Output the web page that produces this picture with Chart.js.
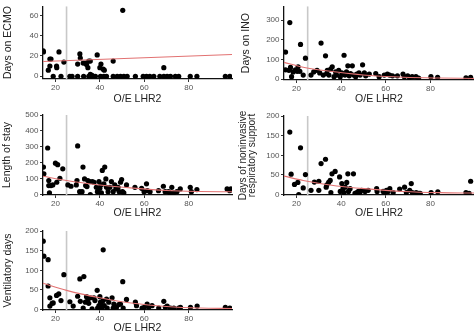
<!DOCTYPE html>
<html>
<head>
<meta charset="utf-8">
<script src="https://cdn.jsdelivr.net/npm/chart.js@4.4.0/dist/chart.umd.min.js"></script>
<style>
  html, body { margin: 0; padding: 0; background: #fff; }
  #wrap { position: relative; width: 474px; height: 335px; overflow: hidden; }
  #wrap canvas { position: absolute; left: 0; top: 0; }
</style>
</head>
<body>
<div id="wrap">
  <canvas id="ecmo" width="474" height="335"></canvas>
  <canvas id="ino" width="474" height="335"></canvas>
  <canvas id="los" width="474" height="335"></canvas>
  <canvas id="niv" width="474" height="335"></canvas>
  <canvas id="vent" width="474" height="335"></canvas>
</div>
<script>
// shared x axis
const xTicks = [20, 40, 60, 80];
const lhrCutoff = 25;

// Days on ECMO
const ecmoTicks = [0, 20, 40, 60];
const ecmoPoints = [
  [14.5, 25], [14.6, 24], [17.5, 17], [18, 17], [16.8, 6], [17.5, 10], [19, 0], [20.5, 10], [20.6, 8.5],
  [21.6, 24], [22.5, 0], [23.8, 14], [26.5, 0], [27.5, 0], [30, 0], [32.7, 0], [35, 0], [36.5, 0], [38, 0],
  [40.3, 0], [41.8, 0], [43, 0], [46, 0], [47.8, 0], [49.3, 0], [50.8, 0], [52.3, 0], [56, 0], [59.5, 0],
  [61, 0], [62.5, 0], [64.3, 0], [67, 0], [68.8, 0], [70.3, 0], [71.8, 0], [74, 0], [75.5, 0], [80.7, 0],
  [83.7, 0], [96.5, 0], [98.5, 0], [30, 12], [31, 22], [31.2, 18], [32.5, 13], [33.5, 13], [34, 11.5],
  [35, 15], [34.6, 8.5], [35.7, 15], [35.7, 2], [36.5, 1], [38.8, 21], [40, 8.5], [40.5, 12], [41.5, 7],
  [42, 6], [46, 15], [50.3, 65], [68.8, 8.5]
];
const ecmoFit = [[14.4, 14.5], [99.5, 21.4]];

// Days on INO
const inoTicks = [0, 100, 200, 300];
const inoPoints = [
  [15.1, 137], [17, 287], [15.1, 47], [16.6, 44], [17.3, 59], [17.8, 12], [18.5, 36], [19.5, 47], [20.3, 39],
  [20.7, 62], [21.5, 39], [21.8, 176], [23, 20], [24, 106], [26.5, 20], [27.7, 36], [29.2, 44], [30.4, 31],
  [31, 183], [32, 20], [33, 118], [33.5, 28], [33.8, 44], [34.5, 20], [35.3, 51], [36, 62], [36.8, 12],
  [37.5, 36], [38, 20], [38.9, 44], [39.6, 12], [40.3, 31], [40.8, 25], [41.3, 121], [41.7, 20], [42.4, 36],
  [43, 67], [43.6, 16], [44.2, 28], [45, 67], [45.6, 20], [46.5, 12], [47, 25], [48, 31], [48.5, 20],
  [49.6, 72], [50.4, 31], [51, 16], [52.6, 25], [55.5, 28], [57, 12], [59.3, 20], [60.7, 25], [61.7, 20],
  [63, 16], [65.2, 16], [67.7, 25], [68.3, 12], [69.8, 16], [70.6, 9], [71.8, 12], [73.5, 12], [74.7, 5],
  [80.2, 12], [83.2, 9], [95.9, 6], [98, 9]
];
const inoFit = [[14.4, 85], [23, 60], [38, 36], [53, 18], [68, 9], [84, 5], [99.5, 3]];

// Length of stay
const losTicks = [0, 100, 200, 300, 400, 500];
const losPoints = [
  [14.6, 173], [14.8, 131], [16.5, 293], [17, 57], [17, 89], [17.3, 11], [18, 57], [18.8, 61], [20, 198],
  [21, 188], [20.6, 78], [22, 103], [23.3, 162], [25.6, 61], [27, 53], [29.4, 61], [30, 306], [29.7, 89],
  [30.9, 19], [32, 19], [32.4, 173], [33.1, 99], [33.6, 57], [34.2, 51], [34.6, 89], [35.4, 82], [35.7, 0],
  [36.6, 82], [37.4, 78], [38.4, 46], [38.9, 19], [39.6, 82], [40, 40], [40.4, 61], [40.7, 11], [41.1, 152],
  [41.8, 68], [42.2, 173], [43, 46], [42.7, 99], [43.7, 19], [44.5, 46], [45.2, 82], [46, 19], [46.7, 61],
  [47.2, 36], [48.2, 46], [48.7, 19], [49.3, 78], [49.8, 95], [50.2, 19], [50.8, 11], [52, 61], [55.8, 46],
  [58.8, 40], [59.9, 19], [61, 68], [61.4, 25], [62.6, 19], [66.4, 25], [68.6, 53], [69.4, 19], [70.9, 19],
  [71.6, 11], [72.4, 46], [73.2, 11], [74.7, 19], [76.2, 36], [80.7, 46], [81.2, 19], [83.7, 32], [97.3, 36],
  [98.5, 25], [99, 36]
];
const losFit = [[14.4, 116], [25, 89], [40, 61], [55, 41], [70, 26], [85, 20], [99.5, 18]];

// Days of noninvasive respiratory support
const nivTicks = [0, 50, 100, 150, 200];
const nivPoints = [
  [17, 159], [17.6, 52], [19.1, 26], [20.6, 31], [21, 0], [21.8, 119], [23, 17], [24, 51], [26.5, 11],
  [28, 32], [30, 11], [30, 34], [31, 79], [33, 90], [33.3, 19], [33.6, 25], [34.4, 31], [35.1, 36], [35.4, 5],
  [35.9, 53], [37.3, 59], [39.3, 45], [39.6, 8], [40.3, 28], [40.8, 15], [41.3, 5], [41.8, 19], [42.5, 31],
  [43, 53], [43.3, 8], [44, 15], [45.5, 53], [46.2, 3], [47, 5], [47.7, 8], [48.4, 5], [49.2, 11], [50.7, 8],
  [52.1, 11], [55.9, 15], [56.1, 8], [58.8, 8], [59.5, 5], [60.3, 11], [61, 8], [61.8, 15], [63.3, 5],
  [66.2, 14], [68.4, 19], [69.2, 5], [70.7, 11], [71.4, 28], [71.9, 5], [73.6, 5], [74.8, 3], [75.4, 3],
  [80.3, 5], [83.3, 7], [95.9, 5], [98, 34], [97.3, 3]
];
const nivFit = [[14.4, 47], [23, 36], [38, 22], [53, 14], [68, 8], [84, 5], [99.5, 4]];

// Ventilatory days
const ventTicks = [0, 50, 100, 150, 200];
const ventPoints = [
  [14.5, 174], [14.8, 136], [16.7, 127], [16.7, 60], [17.5, 30], [17.5, 9], [18.5, 16], [19, 17], [20.5, 36],
  [21.5, 40], [22.5, 23], [23.8, 89], [26.5, 20], [28, 9], [30, 34], [31, 78], [31.2, 21], [32.8, 84],
  [32.5, 4], [33.5, 19], [34, 33], [34.6, 27], [35, 16], [35.7, 30], [36.5, 2], [37.3, 30], [37.8, 23],
  [38.8, 49], [39, 4], [39.6, 10], [40, 33], [40.3, 19], [40.7, 13], [41, 4], [41.5, 152], [41.5, 23], [42, 10],
  [43, 27], [43.3, 4], [44, 19], [45.5, 30], [46, 4], [46.3, 14], [47.5, 6], [48.5, 13], [49.3, 14], [50.3, 71],
  [50.5, 4], [52, 26], [56, 19], [56.5, 10], [59, 4], [60, 6], [61.3, 14], [62, 6], [63.5, 10], [66.5, 4],
  [68.8, 21], [69.5, 6], [70.3, 9], [71.8, 4], [73.3, 4], [75.5, 4], [76.3, 6], [80.8, 6], [83.8, 9],
  [96.5, 6], [98.5, 4]
];
const ventFit = [[14.4, 67], [25, 49], [40, 30], [55, 16], [70, 8], [85, 4], [99.5, 3]];

const FONT = '"Liberation Sans", Arial, Helvetica, sans-serif';
const xy = arr => arr.map(([x, y]) => ({ x, y }));

function makePanel(id, p) {
  const { box, yWidth, xHeight } = p;
  new Chart(document.getElementById(id), {
    type: 'scatter',
    data: {
      datasets: [
        {
          type: 'line',
          data: xy(p.fit),
          borderColor: '#e27272',
          borderWidth: 1.1,
          pointRadius: 0,
          cubicInterpolationMode: 'monotone'
        },
        {
          data: xy(p.points),
          pointRadius: 2.6,
          backgroundColor: '#000',
          borderWidth: 0
        },
        {
          type: 'line',
          data: [{ x: lhrCutoff, y: p.yMin }, { x: lhrCutoff, y: p.yMax }],
          borderColor: '#c8c8c8',
          borderWidth: 1.6,
          pointRadius: 0
        }
      ]
    },
    options: {
      responsive: false,
      animation: false,
      events: [],
      layout: {
        autoPadding: false,
        padding: {
          left: box.l - yWidth,
          top: box.t,
          right: 474 - box.r,
          bottom: 335 - box.b - xHeight
        }
      },
      plugins: { legend: { display: false }, tooltip: { enabled: false } },
      scales: {
        x: {
          type: 'linear',
          bounds: 'data',
          min: 14.4,
          max: 99.5,
          afterFit: s => { s.height = xHeight; },
          afterBuildTicks: s => { s.ticks = xTicks.map(v => ({ value: v })); },
          grid: { drawOnChartArea: false, tickLength: 3, color: '#333' },
          border: { color: '#111', width: 1.3 },
          ticks: { autoSkip: false, maxRotation: 0, padding: 1, color: '#555', font: { family: FONT, size: 8 } },
          title: { display: true, text: 'O/E LHR2', color: '#222', font: { family: FONT, size: 10.5 }, padding: 0 }
        },
        y: {
          type: 'linear',
          bounds: 'data',
          min: p.yMin,
          max: p.yMax,
          afterFit: s => { s.width = yWidth; },
          afterBuildTicks: s => { s.ticks = p.yTicks.map(v => ({ value: v })); },
          grid: { drawOnChartArea: false, tickLength: 3, color: '#333' },
          border: { color: '#111', width: 1.3 },
          ticks: { autoSkip: false, padding: 1.5, color: '#555', font: { family: FONT, size: 8 } },
          title: {
            display: true,
            text: p.title,
            color: '#222',
            font: { family: FONT, size: p.titleSize || 10.5, lineHeight: p.titleLine || 1.2 },
            padding: { top: p.titlePad, bottom: 0 }
          }
        }
      }
    }
  });
}

makePanel('ecmo', {
  points: ecmoPoints, fit: ecmoFit, yTicks: ecmoTicks, yMin: -2.7, yMax: 69,
  title: 'Days on ECMO', titlePad: 2,
  box: { l: 43, t: 0, r: 232, b: 79 }, yWidth: 43, xHeight: 26
});
makePanel('ino', {
  points: inoPoints, fit: inoFit, yTicks: inoTicks, yMin: -5, yMax: 370,
  title: 'Days on INO', titlePad: 3,
  box: { l: 284, t: 0, r: 474, b: 80 }, yWidth: 47, xHeight: 25
});
makePanel('los', {
  points: losPoints, fit: losFit, yTicks: losTicks, yMin: -2, yMax: 500,
  title: 'Length of stay', titlePad: 1.3,
  box: { l: 43, t: 115, r: 232, b: 195 }, yWidth: 43, xHeight: 24
});
makePanel('niv', {
  points: nivPoints, fit: nivFit, yTicks: nivTicks, yMin: -1, yMax: 200,
  title: ['Days of noninvasive', 'respiratory support'], titlePad: 2.2, titleSize: 10, titleLine: 0.9,
  box: { l: 284, t: 116, r: 474, b: 195 }, yWidth: 47, xHeight: 24
});
makePanel('vent', {
  points: ventPoints, fit: ventFit, yTicks: ventTicks, yMin: -1, yMax: 200,
  title: 'Ventilatory days', titlePad: 2,
  box: { l: 43, t: 231, r: 232, b: 310 }, yWidth: 43, xHeight: 24
});
</script>
</body>
</html>
